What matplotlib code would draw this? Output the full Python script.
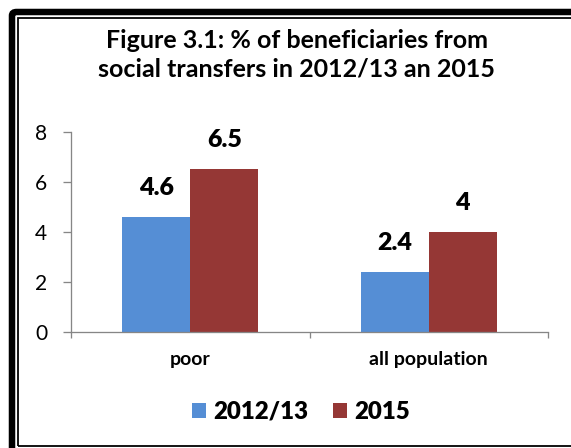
import matplotlib
matplotlib.use("Agg")
import matplotlib.pyplot as plt
from matplotlib.patches import Rectangle, FancyBboxPatch
import numpy as np

categories = ["poor", "all population"]
series_names = ["2012/13", "2015"]
values_2012 = [4.6, 2.4]
values_2015 = [6.5, 4.0]
value_labels_2012 = ["4.6", "2.4"]
value_labels_2015 = ["6.5", "4"]
yticks = [0, 2, 4, 6, 8]
title = "Figure 3.1: % of beneficiaries from\nsocial transfers in 2012/13 an 2015"

BLUE = "#558ED5"
RED = "#953735"
AXIS_GRAY = "#868686"

W, H = 571, 448
DPI = 100
plt.rcParams["font.family"] = ["Lato", "DejaVu Sans"]

fig = plt.figure(figsize=(W / DPI, H / DPI), dpi=DPI)
fig.patch.set_facecolor("white")


def px(x, y):
    """Pixel coordinates (origin top-left) to figure fraction."""
    return x / W, 1 - y / H


def pt(p):
    return p * 72 / DPI


# frame: thick outer band and thin inner line
x0, y0 = px(12, 460)
x1, y1 = px(640, 12)
outer = FancyBboxPatch((x0, y0), x1 - x0, y1 - y0,
                       boxstyle="round,pad=0,rounding_size=0.008",
                       transform=fig.transFigure, fill=False,
                       edgecolor="black", linewidth=pt(6.5), zorder=10)
fig.add_artist(outer)
ix0, iy0 = px(18, 446)
ix1, iy1 = px(640, 18)
inner = Rectangle((ix0, iy0), ix1 - ix0, iy1 - iy0, transform=fig.transFigure,
                  fill=False, edgecolor="black", linewidth=pt(1.8), zorder=10)
fig.add_artist(inner)

# plot area
left, top = px(71, 132)
right, bottom = px(548, 331.7)
ax = fig.add_axes([left, bottom, right - left, top - bottom])

x = np.arange(len(categories))
bw = 0.285
b1 = ax.bar(x - bw / 2, values_2012, bw, color=BLUE, label=series_names[0], zorder=2)
b2 = ax.bar(x + bw / 2, values_2015, bw, color=RED, label=series_names[1], zorder=2)

for bars, labels in ((b1, value_labels_2012), (b2, value_labels_2015)):
    for rect, lab in zip(bars, labels):
        ax.annotate(lab, (rect.get_x() + rect.get_width() / 2, rect.get_height()),
                    xytext=(0, pt(22)), textcoords="offset points",
                    ha="center", va="baseline", fontsize=pt(25),
                    fontweight="heavy", color="black")

ax.set_xlim(-0.5, len(categories) - 0.5)
ax.set_ylim(0, 8)
ax.set_yticks(yticks)
ax.set_yticklabels([str(t) for t in yticks], fontsize=pt(21))
ax.set_xticks(x)
ax.set_xticklabels(categories, fontsize=pt(19.5), fontweight="bold")
ax.xaxis.set_ticks_position("none")
ax.tick_params(axis="x", pad=pt(14))
# category separator ticks
ax.set_xticks([-0.5, 0.5, 1.5], minor=True)
ax.tick_params(axis="x", which="minor", direction="out", length=pt(6),
               color=AXIS_GRAY, width=pt(1.3), bottom=True)
ax.tick_params(axis="y", direction="out", length=pt(8), color=AXIS_GRAY,
               width=pt(1.3), pad=pt(16))

for s in ("top", "right"):
    ax.spines[s].set_visible(False)
for s in ("left", "bottom"):
    ax.spines[s].set_color(AXIS_GRAY)
    ax.spines[s].set_linewidth(pt(1.3))

tx, ty = px(297, 55)
fig.text(tx, ty, title, ha="center", va="center", fontsize=pt(25),
         fontweight="bold", linespacing=1.3)

leg = fig.legend(handles=[b1, b2], labels=series_names, loc="center",
                 bbox_to_anchor=px(301, 412), ncol=2, frameon=False,
                 prop={"size": pt(24), "weight": "heavy"},
                 handlelength=0.6, handleheight=0.6, handletextpad=0.3,
                 columnspacing=1.0, borderaxespad=0)

fig.savefig("out.png", dpi=DPI)
